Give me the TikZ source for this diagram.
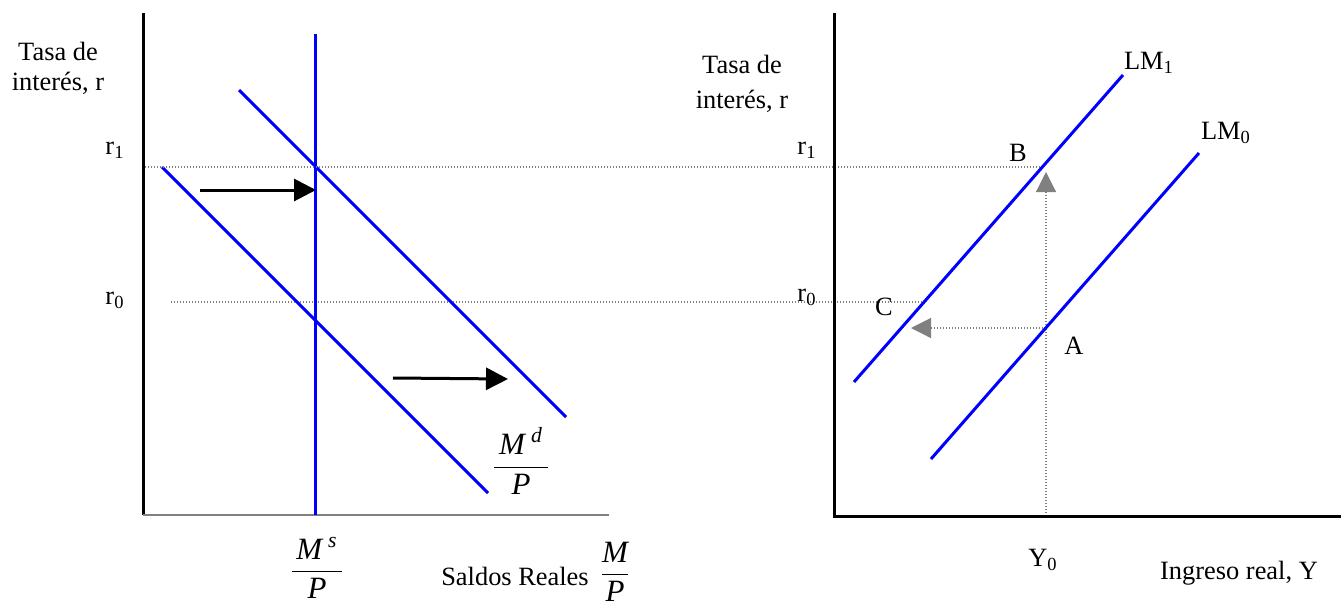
\documentclass[tikz,border=0pt]{standalone}
\usepackage{amsmath}
\usepackage{fontspec}
\setmainfont{Liberation Serif}
\usepackage{xcolor}
\definecolor{lineblue}{RGB}{0,0,255}
\definecolor{guidegray}{RGB}{128,128,128}
\usepackage{tikz}
\usetikzlibrary{arrows.meta, positioning}

\begin{document}
\begin{tikzpicture}[x=0.5pt, y=-0.5pt,
    every node/.style={font=\fontsize{13.2}{15}\selectfont, inner sep=0pt},
    fraclab/.style={font=\fontsize{15.5}{18}\selectfont},
    axisline/.style={black, line width=1.5pt},
    curveline/.style={lineblue, line width=1.5pt},
    guideline/.style={guidegray, line width=0.6pt, dash pattern=on 0.6pt off 0.9pt},
    shiftarrow/.style={black, line width=1.5pt, -{Triangle[length=11pt, width=11pt]}},
    movearrow/.style={guideline, -{Triangle[length=10pt, width=10pt]}}]
    \useasboundingbox (0,0) rectangle (1341,606);

    % mercado de dinero
    \coordinate (oL) at (143,515);
    \coordinate (topL) at (143,13);
    \coordinate (endL) at (609,515);
    \coordinate (msTop) at (315,34);
    \coordinate (msBot) at (315,515);
    \coordinate (md0a) at (162,167);
    \coordinate (md0b) at (488,493);
    \coordinate (md1a) at (239,90);
    \coordinate (md1b) at (566,417);
    \coordinate (r1L) at (145,167);
    \coordinate (r0L) at (171,302);
    \coordinate (s1a) at (200,190);
    \coordinate (s1b) at (316,190);
    \coordinate (s2a) at (393,378);
    \coordinate (s2b) at (508,379);

    \draw[guideline] (r0L) -- (924,302);
    \draw[axisline] (topL) -- (oL);
    \draw[guidegray, line width=1pt] (oL) -- (endL);
    \draw[curveline] (msTop) -- (msBot);
    \draw[curveline] (md0a) -- (md0b);
    \draw[curveline] (md1a) -- (md1b);
    \draw[shiftarrow] (s1a) -- (s1b);
    \draw[shiftarrow] (s2a) -- (s2b);

    \node[align=center] (ylabL) at (58,68) {Tasa de\\interés, r};
    \node (r1labL) at (115,150) {r\textsubscript{1}};
    \node (r0labL) at (115,300) {r\textsubscript{0}};
    \node[fraclab] (mdlab) at (521,461) {$\dfrac{\,\textit{M}^{\;\textit{d}}\,}{\textit{P}}$};
    \node[fraclab] (mslab) at (317,568) {$\dfrac{\,\textit{M}^{\;\textit{s}}\,}{\textit{P}}$};
    \node (xlabL) at (515,576) {Saldos Reales};
    \node[fraclab] (mplab) at (615,572) {$\dfrac{\textit{M}}{\textit{P}}$};

    % curva LM
    \coordinate (oR) at (834,516);
    \coordinate (topR) at (834,13);
    \coordinate (endR) at (1341,516);
    \coordinate (lm1a) at (854,382);
    \coordinate (lm1b) at (1123,75);
    \coordinate (lm0a) at (931,459);
    \coordinate (lm0b) at (1199,153);
    \coordinate (ptB) at (1043,167);
    \coordinate (ptA) at (1046,328);
    \coordinate (y0) at (1046,516);
    \coordinate (tipB) at (1046,172);
    \coordinate (tipC) at (911,328);

    \draw[guideline] (r1L) -- (ptB);
    \draw[guideline] (y0) -- (ptA);
    \draw[movearrow] (ptA) -- (tipB);
    \draw[movearrow] (ptA) -- (tipC);
    \draw[axisline] (topR) -- (oR) -- (endR);
    \draw[curveline] (lm1a) -- (lm1b);
    \draw[curveline] (lm0a) -- (lm0b);

    \node[align=center] (ylabR) at (742,84) {Tasa de\\[2.5pt]interés, r};
    \node (r1labR) at (807,150) {r\textsubscript{1}};
    \node (r0labR) at (807,297) {r\textsubscript{0}};
    \node (lm1lab) at (1149,63) {LM\textsubscript{1}};
    \node (lm0lab) at (1226,133) {LM\textsubscript{0}};
    \node (blab) at (1018,153) {B};
    \node (clab) at (884,307) {C};
    \node (alab) at (1074,346) {A};
    \node (y0lab) at (1043,560) {Y\textsubscript{0}};
    \node (xlabR) at (1239,573) {Ingreso real, Y};
\end{tikzpicture}
\end{document}
